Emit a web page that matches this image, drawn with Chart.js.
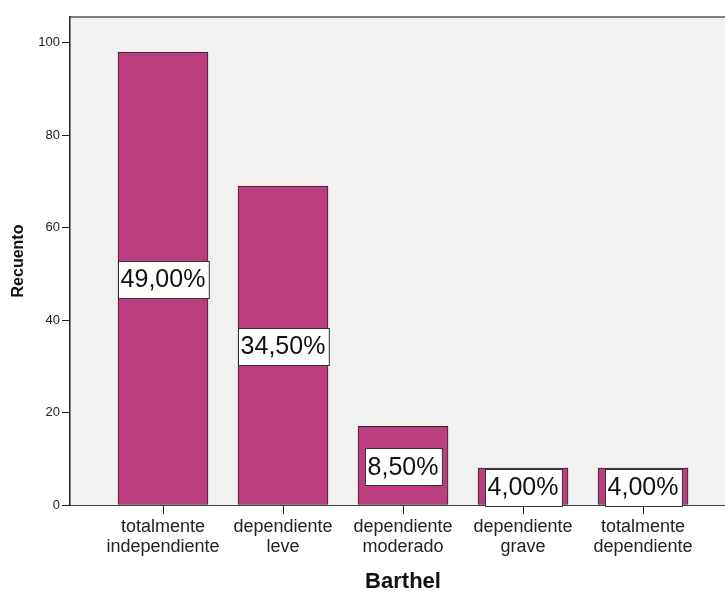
<!DOCTYPE html>
<html>
<head>
<meta charset="utf-8">
<script src="https://cdn.jsdelivr.net/npm/chart.js@4/dist/chart.umd.min.js"></script>
<style>
  html, body { margin: 0; padding: 0; background: #ffffff; }
  #wrap { width: 725px; height: 593px; }
</style>
</head>
<body>
<div id="wrap"><canvas id="chart" width="725" height="593"></canvas></div>
<script>
// Barthel index groups, counted per category
const categories = [
  ["totalmente", "independiente"],
  ["dependiente", "leve"],
  ["dependiente", "moderado"],
  ["dependiente", "grave"],
  ["totalmente", "dependiente"]
]
const counts = [98, 69, 17, 8, 8]
const yTicks = [0, 20, 40, 60, 80, 100]

const FONT = "'Liberation Sans', Arial, sans-serif"
const BAR = "#bb3d7e"
const total = counts.reduce((a, b) => a + b, 0)

// "49,00%" style share of the total, comma as decimal mark
const pct = (v) => (v / total * 100).toFixed(2).replace(".", ",") + "%"

const plotBackground = {
  id: "plotBackground",
  beforeDraw(chart) {
    const { ctx, chartArea: a } = chart
    ctx.save()
    ctx.fillStyle = "#f0f1f0"
    ctx.fillRect(a.left, a.top, a.right - a.left, a.bottom - a.top)
    ctx.fillStyle = "#808080"
    ctx.fillRect(a.left, a.top - 1, a.right - a.left, 2)
    ctx.restore()
  }
}

// white boxes with the percentage, centred halfway up each bar
const percentBoxes = {
  id: "percentBoxes",
  afterDraw(chart) {
    const { ctx } = chart
    const y = chart.scales.y
    const meta = chart.getDatasetMeta(0)
    ctx.save()
    ctx.font = "25px " + FONT
    ctx.textAlign = "center"
    ctx.textBaseline = "middle"
    meta.data.forEach((bar, i) => {
      const text = pct(counts[i])
      const w = ctx.measureText(text).width + 6
      const h = 37
      const cy = y.getPixelForValue(counts[i] / 2) + 1
      const x0 = Math.round(bar.x - w / 2) + 0.5
      const y0 = Math.round(cy - h / 2) + 0.5
      ctx.fillStyle = "#ffffff"
      ctx.fillRect(x0, y0, w, h)
      ctx.strokeStyle = "#333333"
      ctx.lineWidth = 1
      ctx.strokeRect(x0, y0, w, h)
      ctx.fillStyle = "#111111"
      ctx.fillText(text, bar.x, cy + 1)
    })
    ctx.restore()
  }
}

// axis title under the category labels, centred on the middle category
const xTitle = {
  id: "xTitle",
  afterDraw(chart) {
    const { ctx } = chart
    const x = chart.scales.x.getPixelForValue(2)
    ctx.save()
    ctx.font = "bold 22px " + FONT
    ctx.fillStyle = "#111111"
    ctx.textAlign = "center"
    ctx.textBaseline = "alphabetic"
    ctx.fillText("Barthel", x, 588)
    ctx.restore()
  }
}

new Chart(document.getElementById("chart"), {
  type: "bar",
  data: {
    datasets: [{
      data: counts.map((v, i) => ({ x: i, y: v })),
      backgroundColor: BAR,
      borderColor: "#2a2a2a",
      borderWidth: 1,
      borderSkipped: false,
      barThickness: 90
    }]
  },
  options: {
    responsive: false,
    animation: false,
    layout: { padding: { top: 17, right: 0, left: 0, bottom: 0 } },
    plugins: {
      legend: { display: false },
      tooltip: { enabled: false }
    },
    scales: {
      x: {
        type: "linear",
        offset: false,
        min: -0.775,
        max: 4.683,
        afterBuildTicks: (scale) => { scale.ticks = categories.map((_, i) => ({ value: i })) },
        afterFit: (scale) => { scale.height = 88 },
        grid: { offset: false, drawOnChartArea: false, drawTicks: true, tickLength: 9, color: "#222222" },
        border: { display: true, color: "#444444", width: 1 },
        ticks: {
          autoSkip: false,
          maxRotation: 0,
          padding: 3,
          color: "#222222",
          font: { family: FONT, size: 18, lineHeight: 1.1 },
          callback: (v) => categories[v]
        }
      },
      y: {
        min: 0,
        max: 105.6,
        afterBuildTicks: (scale) => { scale.ticks = yTicks.map((v) => ({ value: v })) },
        afterFit: (scale) => { scale.width = 70 },
        grid: { drawOnChartArea: false, drawTicks: true, tickLength: 8, color: "#222222" },
        border: { display: true, color: "#222222", width: 1.5 },
        ticks: {
          padding: 2,
          color: "#222222",
          font: { family: FONT, size: 13 }
        },
        title: {
          display: true,
          text: "Recuento",
          color: "#111111",
          font: { family: FONT, size: 16, weight: "bold" },
          padding: { top: 9, bottom: 0 }
        }
      }
    }
  },
  plugins: [plotBackground, percentBoxes, xTitle]
})
</script>
</body>
</html>
